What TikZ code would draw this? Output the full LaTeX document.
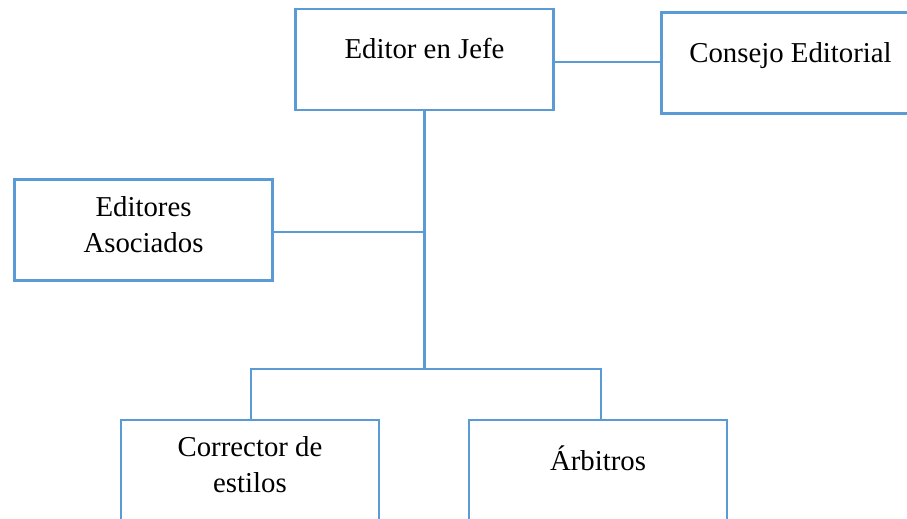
\documentclass[tikz,border=0pt]{standalone}
\usepackage{fontspec}
\setmainfont{Liberation Serif}
\definecolor{orgblue}{RGB}{91,155,213}
\begin{document}
\begin{tikzpicture}[x=1pt,y=-1pt,
  orgbox/.style={draw=orgblue, line width=2.5pt, fill=white,
    minimum width=258pt, minimum height=101pt, inner sep=0pt},
  link/.style={draw=orgblue, line width=2.3pt},
  label/.style={font=\fontsize{28.8}{35.5}\selectfont, align=center,
    inner sep=0pt, anchor=base}]
  \useasboundingbox (0,0) rectangle (907,519);

  % boxes
  \node[orgbox] (jefe)    at (424.5,59.5) {};
  \node[orgbox] (consejo) at (790.5,63)   {};
  \node[orgbox] (asoc)    at (143.5,230)  {};
  \node[orgbox] (corr)    at (250,470.5)  {};
  \node[orgbox] (arb)     at (598,470.5)  {};

  % connectors
  \coordinate (bus) at (jefe.south |- 0,369);
  \draw[link] (jefe.east |- 0,62) -- (consejo.west |- 0,62);
  \draw[link] (jefe.south) -- (bus);
  \draw[link] (asoc.east |- 0,232) -- (jefe.south |- 0,232);
  \draw[link] ([xshift=1pt]corr.north) |- (bus) -| ([xshift=3pt]arb.north);

  % redraw box outlines over the line ends
  \node[orgbox] at (jefe)    {};
  \node[orgbox] at (consejo) {};
  \node[orgbox] at (asoc)    {};
  \node[orgbox] at (corr)    {};
  \node[orgbox] at (arb)     {};

  % texts (base anchor sits on the last line)
  \node[label] (tjefe)    at (jefe.center    |- 0,59)  {Editor en Jefe};
  \node[label] (tconsejo) at (consejo.center |- 0,63)  {Consejo Editorial};
  \node[label] (tasoc)    at (asoc.center    |- 0,252) {Editores\\Asociados};
  \node[label] (tcorr)    at (corr.center    |- 0,492) {Corrector de\\estilos};
  \node[label] (tarb)     at (arb.center     |- 0,470) {Árbitros};
\end{tikzpicture}
\end{document}
